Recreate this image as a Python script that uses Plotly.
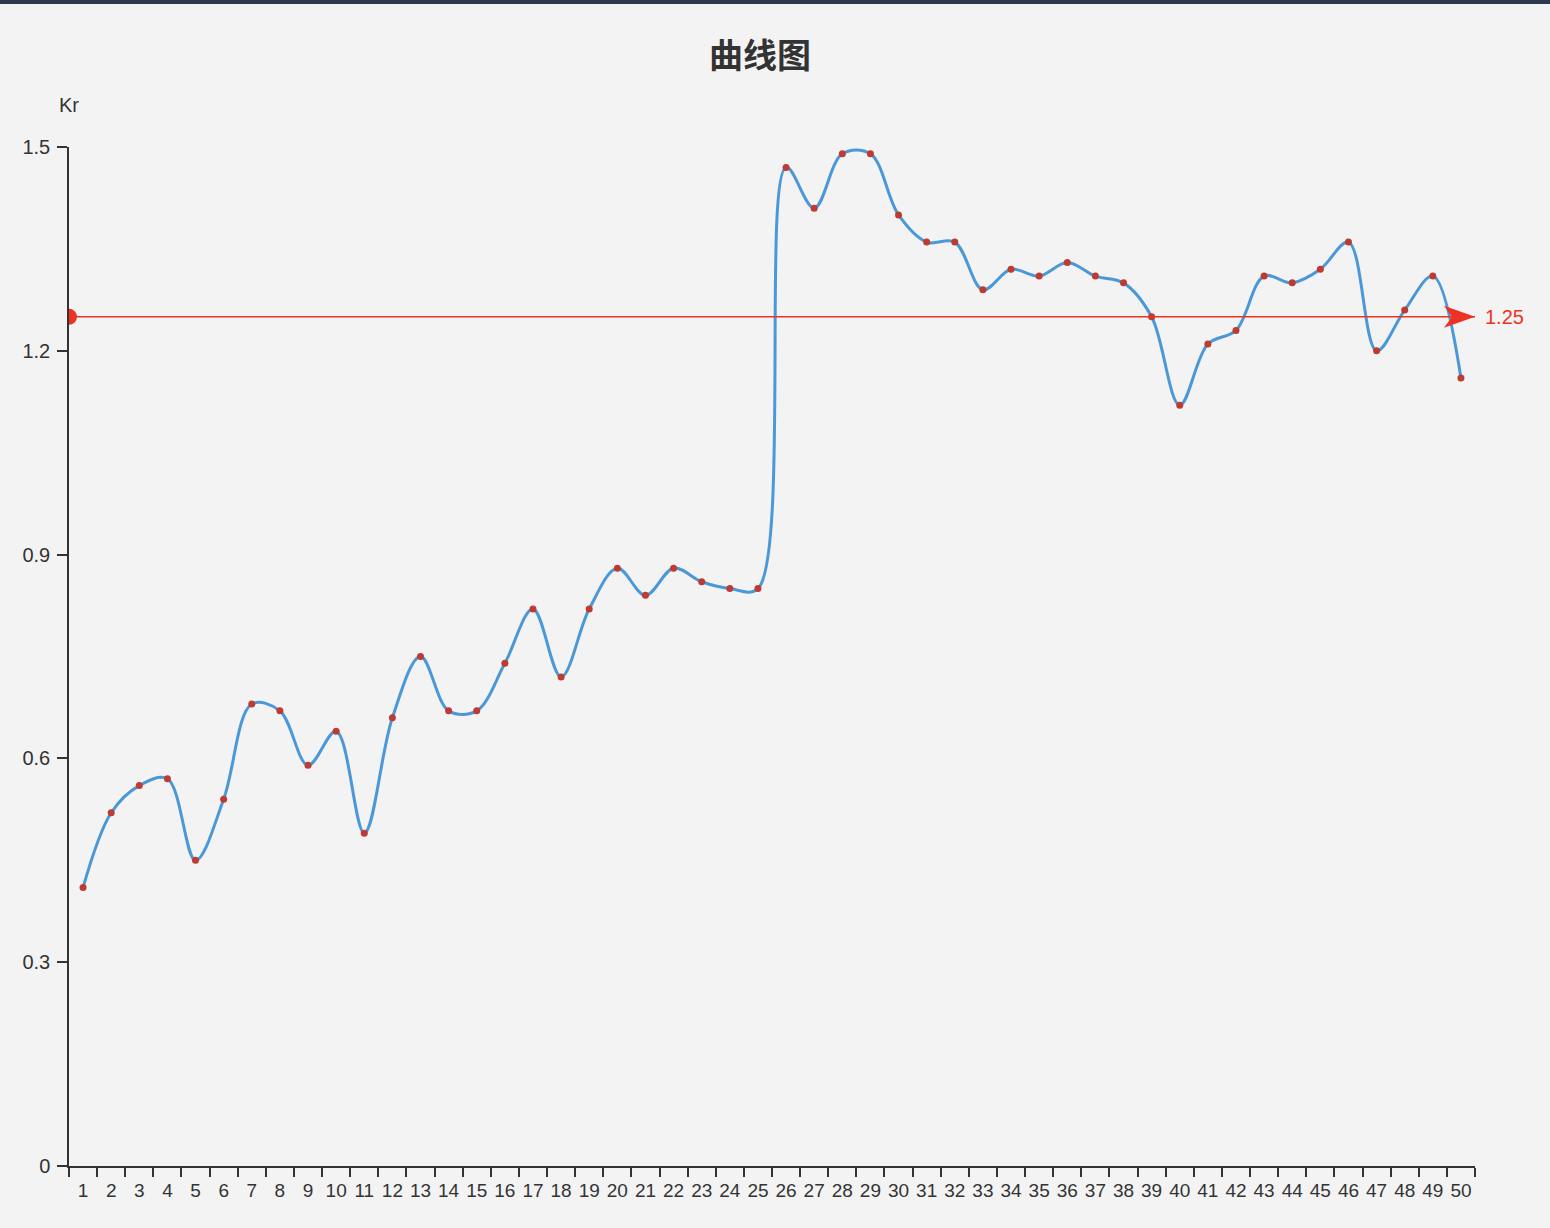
import plotly.graph_objects as go

# Category labels and Kr values
categories = [str(i) for i in range(1, 51)]
kr_values = [
    0.41, 0.52, 0.56, 0.57, 0.45, 0.54, 0.68, 0.67, 0.59, 0.64,
    0.49, 0.66, 0.75, 0.67, 0.67, 0.74, 0.82, 0.72, 0.82, 0.88,
    0.84, 0.88, 0.86, 0.85, 0.85, 1.47, 1.41, 1.49, 1.49, 1.40,
    1.36, 1.36, 1.29, 1.32, 1.31, 1.33, 1.31, 1.30, 1.25, 1.12,
    1.21, 1.23, 1.31, 1.30, 1.32, 1.36, 1.20, 1.26, 1.31, 1.16,
]
threshold = 1.25
y_ticks = [0, 0.3, 0.6, 0.9, 1.2, 1.5]

W, H = 1550, 1228
M_L, M_R, M_T, M_B = 69, 75, 147, 62
plot_w = W - M_L - M_R
plot_h = H - M_T - M_B

BG = "#f3f3f3"
AXIS = "#333333"
TEXT = "#333333"
LINE_BLUE = "#4b98d8"
DOT_RED = "#bd3b31"
MARK_RED = "#ec3323"
FONT = "Liberation Sans, Arial, sans-serif"

fig = go.Figure()

fig.add_trace(go.Scatter(
    x=categories, y=kr_values,
    mode="lines",
    line=dict(color=LINE_BLUE, width=3, shape="spline", smoothing=1.0),
    hoverinfo="skip", showlegend=False,
))
fig.add_trace(go.Scatter(
    x=categories, y=kr_values,
    mode="markers",
    marker=dict(color=DOT_RED, size=7, line=dict(width=0)),
    showlegend=False,
))

first_edge = -0.5
last_edge = len(categories) - 0.5

shapes = [
    # dark strip along the top edge of the page
    dict(type="rect", xref="paper", yref="paper",
         x0=-M_L / plot_w, x1=1 + M_R / plot_w,
         ysizemode="pixel", yanchor=1, y0=M_T - 4, y1=M_T,
         fillcolor="#2c3a4f", line_width=0, layer="above"),
    # reference line
    dict(type="line", xref="x", yref="y",
         x0=first_edge, x1=last_edge, y0=threshold, y1=threshold,
         line=dict(color=MARK_RED, width=1.5), layer="above"),
    # start symbol
    dict(type="circle", xref="x", yref="y",
         xsizemode="pixel", ysizemode="pixel",
         xanchor=first_edge, yanchor=threshold,
         x0=-8, x1=8, y0=-8, y1=8,
         fillcolor=MARK_RED, line_width=0, layer="above"),
    # arrow head
    dict(type="path", xref="x", yref="y",
         xsizemode="pixel", ysizemode="pixel",
         xanchor=last_edge, yanchor=threshold,
         path="M 0,0 L -31,11 L -23,0 L -31,-11 Z",
         fillcolor=MARK_RED, line_width=0, layer="above"),
]

annotations = [
    dict(text="<b>曲线图</b>", xref="paper", yref="paper",
         x=(760 - M_L) / plot_w, y=1 + (M_T - 54) / plot_h,
         xanchor="center", yanchor="middle", showarrow=False,
         font=dict(family="Noto Sans CJK SC", size=34, color=TEXT)),
    dict(text="Kr", xref="x", yref="y", x=first_edge, y=y_ticks[-1],
         xanchor="center", yanchor="middle", yshift=42, showarrow=False,
         font=dict(family=FONT, size=20, color=TEXT)),
    dict(text=f"{threshold}", xref="x", yref="y", x=last_edge, y=threshold,
         xanchor="left", yanchor="middle", xshift=8, showarrow=False,
         font=dict(family=FONT, size=20, color=MARK_RED)),
]

fig.update_layout(
    width=W, height=H,
    margin=dict(l=M_L, r=M_R, t=M_T, b=M_B),
    paper_bgcolor=BG, plot_bgcolor=BG,
    showlegend=False,
    shapes=shapes,
    annotations=annotations,
    hovermode=False,
    xaxis=dict(
        type="category",
        range=[first_edge, last_edge],
        showgrid=False, zeroline=False,
        showline=True, linecolor=AXIS, linewidth=1.5,
        ticks="outside", tickson="boundaries", ticklen=9,
        tickcolor=AXIS, tickwidth=1.5,
        ticklabelstandoff=6,
        tickfont=dict(family=FONT, size=19, color=TEXT),
        tickangle=0,
    ),
    yaxis=dict(
        range=[0, y_ticks[-1]],
        tickvals=y_ticks,
        ticktext=[f"{v:g}" for v in y_ticks],
        showgrid=False, zeroline=False,
        showline=True, linecolor=AXIS, linewidth=1.5,
        ticks="outside", ticklen=10, tickcolor=AXIS, tickwidth=1.5,
        ticklabelstandoff=3,
        tickfont=dict(family=FONT, size=20, color=TEXT),
    ),
)

fig.write_html("out.html")
